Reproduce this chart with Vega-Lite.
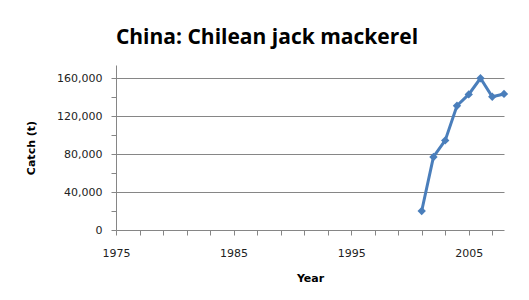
{
  "$schema": "https://vega.github.io/schema/vega-lite/v6.json",
  "width": 388,
  "height": 165,
  "autosize": {"type": "none"},
  "padding": {"left": 116, "top": 65, "right": 25, "bottom": 70},
  "background": "white",
  "title": {
    "text": "China: Chilean jack mackerel",
    "font": "Open Sans",
    "fontSize": 21,
    "fontWeight": "bold",
    "color": "#000000",
    "anchor": "middle",
    "dx": -43,
    "offset": 17
  },
  "config": {
    "view": {"stroke": null},
    "axis": {
      "labelFont": "DejaVu Sans",
      "labelFontSize": 11,
      "labelColor": "#222222",
      "titleFont": "DejaVu Sans",
      "titleFontSize": 11,
      "titleFontWeight": "bold",
      "titleColor": "#000000",
      "domainColor": "#868686",
      "tickColor": "#868686",
      "gridColor": "#868686",
      "gridWidth": 1,
      "tickSize": 5,
      "labelFlush": false
    }
  },
  "data": {
    "values": [
      {"Year": 2001, "Catch": 20000},
      {"Year": 2002, "Catch": 77000},
      {"Year": 2003, "Catch": 94500},
      {"Year": 2004, "Catch": 131000},
      {"Year": 2005, "Catch": 143000},
      {"Year": 2006, "Catch": 160000},
      {"Year": 2007, "Catch": 140500},
      {"Year": 2008, "Catch": 143500}
    ]
  },
  "mark": {
    "type": "line",
    "color": "#4A7EBB",
    "strokeWidth": 3,
    "point": {"shape": "diamond", "size": 70, "filled": true, "color": "#4A7EBB"}
  },
  "encoding": {
    "x": {
      "field": "Year",
      "type": "quantitative",
      "scale": {"domain": [1975, 2008], "nice": false, "zero": false},
      "axis": {
        "title": "Year",
        "values": [1975, 1977, 1979, 1981, 1983, 1985, 1987, 1989, 1991, 1993, 1995, 1997, 1999, 2001, 2003, 2005, 2007],
        "labelExpr": "(datum.value - 1975) % 10 === 0 ? datum.value : ''",
        "format": "d",
        "grid": false,
        "labelPadding": 12,
        "titlePadding": 14
      }
    },
    "y": {
      "field": "Catch",
      "type": "quantitative",
      "scale": {"domain": [0, 174000], "nice": false},
      "axis": {
        "title": "Catch (t)",
        "values": [0, 20000, 40000, 60000, 80000, 100000, 120000, 140000, 160000],
        "labelExpr": "datum.value % 40000 === 0 ? format(datum.value, ',') : ''",
        "grid": true,
        "gridOpacity": {"condition": {"test": "datum.value % 40000 === 0 && datum.value > 0", "value": 1}, "value": 0},
        "labelPadding": 9,
        "titlePadding": 20
      }
    }
  }
}
